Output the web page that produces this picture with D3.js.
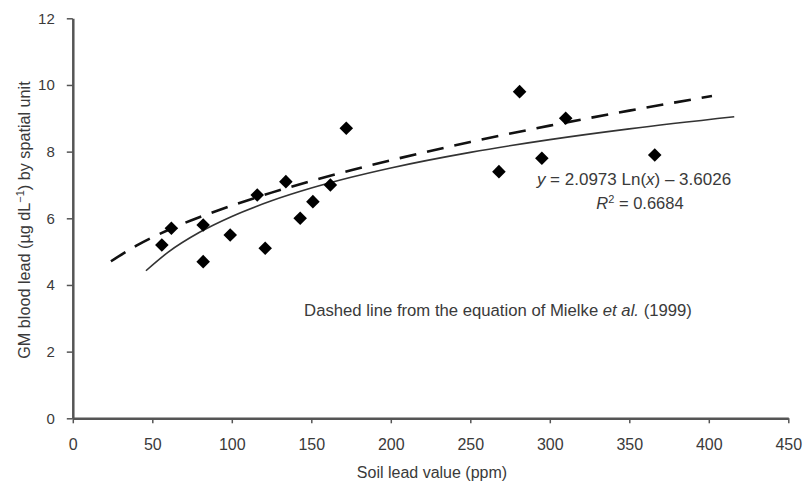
<!DOCTYPE html>
<html><head><meta charset="utf-8">
<script src="https://cdn.jsdelivr.net/npm/d3@7"></script>
<style>
body{margin:0;background:#fff;}
text{font-family:"Liberation Sans",Arial,sans-serif;fill:#3a3a3a;}
</style></head>
<body><svg id="c" width="808" height="485"></svg>
<script>
// Observed points (soil lead ppm, GM blood lead µg/dL)
const soilLead = [56, 62, 82, 82, 99, 116, 121, 134, 143, 151, 162, 172, 268, 281, 295, 310, 366];
const bloodLead = [5.2, 5.7, 5.8, 4.7, 5.5, 6.7, 5.1, 7.1, 6.0, 6.5, 7.0, 8.7, 7.4, 9.8, 7.8, 9.0, 7.9];
// Fitted log curve (solid), sampled
const fitX = [46, 60, 80, 100, 125, 150, 175, 200, 250, 300, 350, 416];
const fitY = [4.427, 4.985, 5.588, 6.056, 6.524, 6.906, 7.230, 7.510, 7.978, 8.360, 8.683, 9.046];
// Mielke et al. (1999) curve (dashed)
const mielkeX = [24, 40, 60, 80, 100, 125, 150, 175, 200, 250, 300, 350, 402];
const mielkeY = [4.71, 5.18, 5.65, 6.04, 6.38, 6.77, 7.12, 7.44, 7.74, 8.29, 8.78, 9.23, 9.67];
// Ticks
const xTicks = [0, 50, 100, 150, 200, 250, 300, 350, 400, 450];
const yTicks = [0, 2, 4, 6, 8, 10, 12];

const svg = d3.select("#c");
const x = d3.scaleLinear().domain([0, 450]).range([72.8, 788.3]);
const y = d3.scaleLinear().domain([0, 12]).range([418.3, 18.3]);

// Axes
const xAxis = svg.append("g").attr("transform", `translate(0,${y(0)})`)
  .call(d3.axisBottom(x).tickValues(xTicks).tickSize(5).tickPadding(15).tickSizeOuter(0));
const yAxis = svg.append("g").attr("transform", `translate(${x(0)},0)`)
  .call(d3.axisLeft(y).tickValues(yTicks).tickSize(6).tickPadding(12).tickSizeOuter(0));
[xAxis, yAxis].forEach(g => {
  g.select(".domain").attr("stroke", "#555").attr("stroke-width", 2.5);
  g.selectAll(".tick line").attr("stroke", "#555").attr("stroke-width", 1.5);
  g.selectAll(".tick text").attr("fill", "#444")
    .attr("font-family", "Liberation Sans, Arial, sans-serif");
});
xAxis.selectAll(".tick text").attr("font-size", 16);
yAxis.selectAll(".tick text").attr("font-size", 15);

// Lines
const line = d3.line().x(d => x(d[0])).y(d => y(d[1])).curve(d3.curveMonotoneX);
svg.append("path").datum(mielkeX.map((v, i) => [v, mielkeY[i]]))
  .attr("d", line).attr("fill", "none").attr("stroke", "#111")
  .attr("stroke-width", 2.6).attr("stroke-dasharray", "17,11");
svg.append("path").datum(fitX.map((v, i) => [v, fitY[i]]))
  .attr("d", line).attr("fill", "none").attr("stroke", "#333")
  .attr("stroke-width", 1.6);

// Points
const sym = d3.symbol().type(d3.symbolSquare).size(92);
svg.append("g").selectAll("path").data(soilLead.map((v, i) => [v, bloodLead[i]]))
  .join("path").attr("d", sym)
  .attr("transform", d => `translate(${x(d[0])},${y(d[1])}) rotate(45)`)
  .attr("fill", "#000");

// Axis titles
svg.append("text").attr("x", 432).attr("y", 478).attr("text-anchor", "middle")
  .attr("font-size", 16).text("Soil lead value (ppm)");
const yl = svg.append("text").attr("transform", "translate(30,220) rotate(-90)")
  .attr("text-anchor", "middle").attr("font-size", 16.2);
yl.append("tspan").text("GM blood lead (µg dL");
yl.append("tspan").attr("dy", -6).attr("font-size", 11).text("−1");
yl.append("tspan").attr("dy", 6).text(") by spatial unit");

// Annotations
const eq = svg.append("text").attr("x", 634).attr("y", 185).attr("text-anchor", "middle").attr("font-size", 17);
eq.append("tspan").attr("font-style", "italic").text("y");
eq.append("tspan").text(" = 2.0973  Ln(");
eq.append("tspan").attr("font-style", "italic").text("x");
eq.append("tspan").text(") – 3.6026");
const r2 = svg.append("text").attr("x", 640).attr("y", 209).attr("text-anchor", "middle").attr("font-size", 16.5);
r2.append("tspan").attr("font-style", "italic").text("R");
r2.append("tspan").attr("dy", -6).attr("font-size", 11).text("2");
r2.append("tspan").attr("dy", 6).text(" = 0.6684");
const note = svg.append("text").attr("x", 498).attr("y", 316).attr("text-anchor", "middle").attr("font-size", 16.7);
note.append("tspan").text("Dashed line from the equation of Mielke ");
note.append("tspan").attr("font-style", "italic").text("et al.");
note.append("tspan").text(" (1999)");
</script></body></html>
